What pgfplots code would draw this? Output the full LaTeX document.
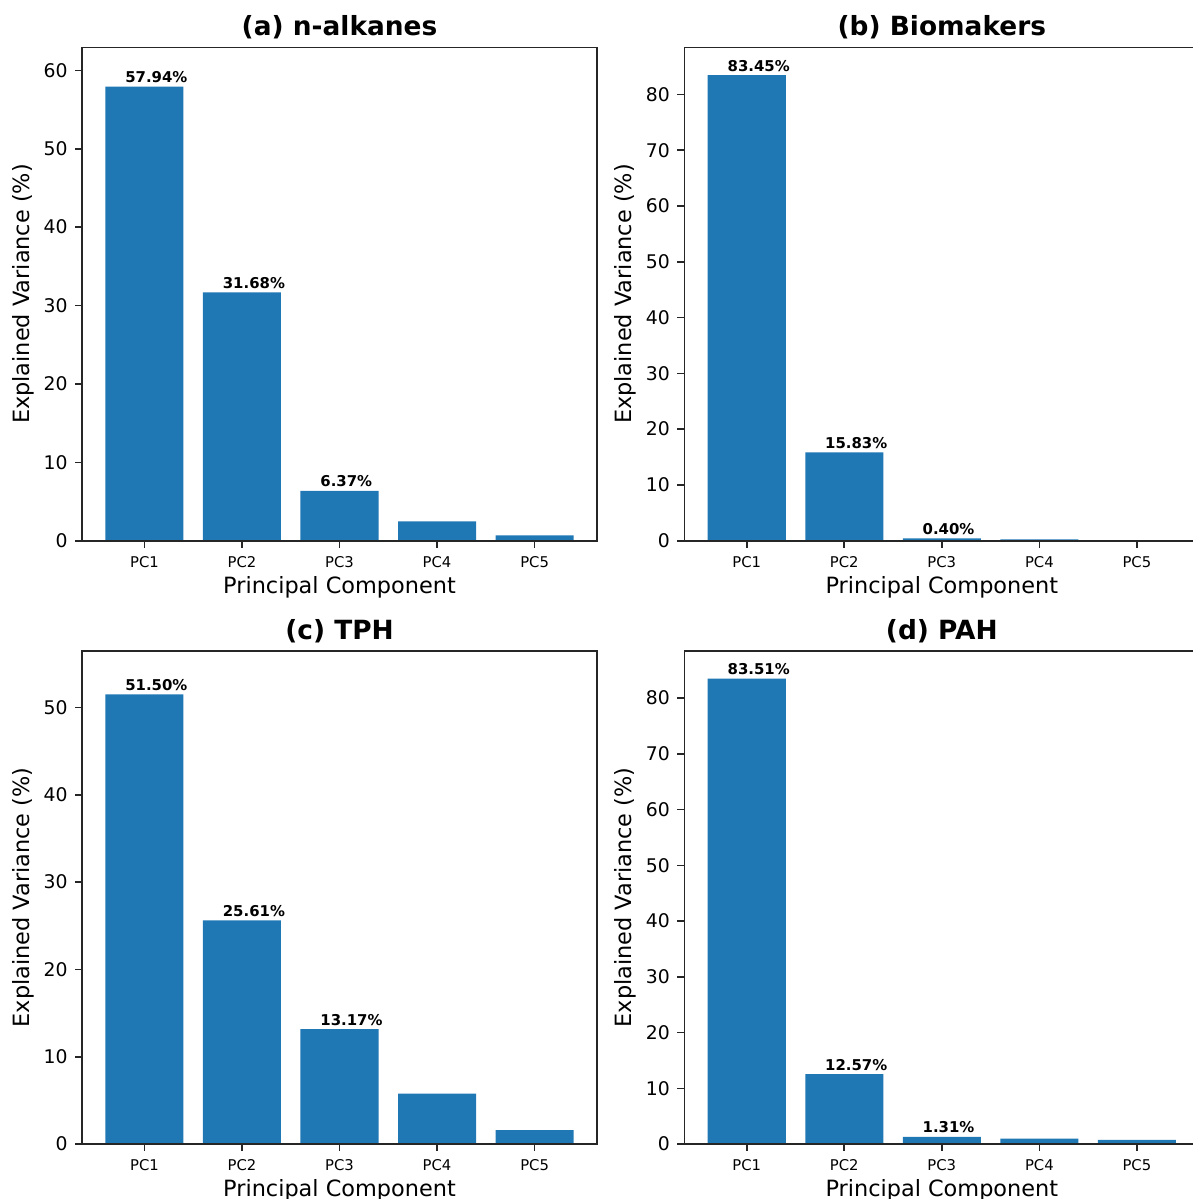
\documentclass[border=0pt]{standalone}
\usepackage{fontspec}
\setmainfont{DejaVu Sans}
\usepackage{pgfplots}
\pgfplotsset{compat=1.18}
\definecolor{mplblue}{HTML}{1F77B4}
\pgfplotsset{
  pcaxis/.style={
    scale only axis, width=257.5pt, height=246.7pt, anchor=north west,
    xmin=-0.64, xmax=4.64, ymin=0,
    xtick={0,1,2,3,4}, xticklabels={PC1,PC2,PC3,PC4,PC5},
    tick align=outside, xtick pos=bottom, ytick pos=left,
    major tick length=3.5pt,
    every tick/.style={black!85, line width=0.8pt},
    axis line style={black!85, line width=0.8pt},
    /pgf/number format/assume math mode=true,
    yticklabel style={anchor=east, inner sep=0pt, xshift=-3.5pt, font=\fontsize{9.4}{11}\selectfont},
    xticklabel style={anchor=north, inner sep=0pt, yshift=-4pt, font=\fontsize{7.4}{8.8}\selectfont},
    title style={font=\bfseries\fontsize{13.2}{16}\selectfont, at={(axis description cs:0.5,1)}, anchor=base, yshift=-0.15pt, inner sep=0pt},
    xlabel={Principal Component}, ylabel={Explained Variance (\%)},
    label style={font=\fontsize{11.2}{13.5}\selectfont, inner sep=0pt},
    xlabel style={at={(axis description cs:0.5,-0.107)}, anchor=base},
    ylabel style={at={(axis description cs:-0.1029,0.5)}, anchor=base},
    axis on top, clip=false,
  },
  pcbar/.style={ybar, bar width=0.8, bar shift=0pt, fill=mplblue, draw=none},
  pclab/.style={draw=none, mark=none, nodes near coords, point meta=explicit symbolic,
     every node near coord/.append style={font=\bfseries\fontsize{7.45}{9}\selectfont, anchor=base west, xshift=-9.75pt, yshift=2pt, inner sep=0pt, text=black}},
}
\begin{document}
\begin{tikzpicture}
\useasboundingbox (0,0) rectangle (596.5pt,-599.5pt);
% (a)
\begin{axis}[pcaxis, at={(41pt,-23.65pt)}, ymax=62.94, ytick={0,10,...,60}, title={(a) n-alkanes}]
\addplot[pcbar] coordinates {(0,57.94) (1,31.68) (2,6.37) (3,2.46) (4,0.68)};
\addplot[pclab] coordinates {(0,57.94)[57.94\%] (1,31.68)[31.68\%] (2,6.37)[6.37\%]};
\end{axis}
% (b)
\begin{axis}[pcaxis, at={(342.15pt,-23.65pt)}, ymax=88.45, ytick={0,10,...,80}, title={(b) Biomakers}]
\addplot[pcbar] coordinates {(0,83.45) (1,15.83) (2,0.40) (3,0.22) (4,0.08)};
\addplot[pclab] coordinates {(0,83.45)[83.45\%] (1,15.83)[15.83\%] (2,0.40)[0.40\%]};
\end{axis}
% (c)
\begin{axis}[pcaxis, at={(41pt,-325.35pt)}, ymax=56.5, ytick={0,10,...,50}, title={(c) TPH}]
\addplot[pcbar] coordinates {(0,51.50) (1,25.61) (2,13.17) (3,5.79) (4,1.60)};
\addplot[pclab] coordinates {(0,51.50)[51.50\%] (1,25.61)[25.61\%] (2,13.17)[13.17\%]};
\end{axis}
% (d)
\begin{axis}[pcaxis, at={(342.15pt,-325.35pt)}, ymax=88.51, ytick={0,10,...,80}, title={(d) PAH}]
\addplot[pcbar] coordinates {(0,83.51) (1,12.57) (2,1.31) (3,1.00) (4,0.78)};
\addplot[pclab] coordinates {(0,83.51)[83.51\%] (1,12.57)[12.57\%] (2,1.31)[1.31\%]};
\end{axis}
\end{tikzpicture}
\end{document}
